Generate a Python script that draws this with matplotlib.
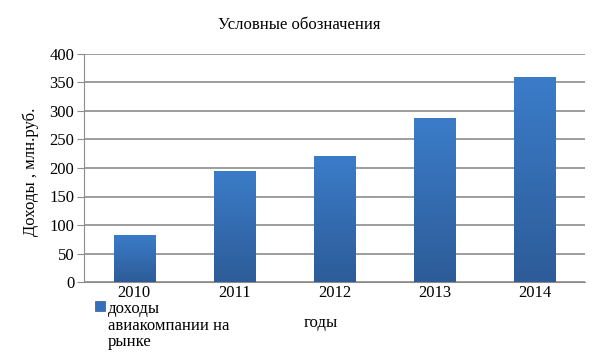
import matplotlib.pyplot as plt
import numpy as np
from matplotlib.patches import Rectangle
from matplotlib.colors import LinearSegmentedColormap

years = ['2010', '2011', '2012', '2013', '2014']
revenue = [83, 195, 221, 288, 360]

plt.rcParams['font.family'] = ['Liberation Serif', 'DejaVu Serif']

fig = plt.figure(figsize=(5.98, 3.52), dpi=100)
ax = fig.add_axes([84 / 598, (352 - 282) / 352, 501 / 598, 228 / 352])

x = np.arange(len(years))
bars = ax.bar(x, revenue, width=0.41, color='#3570b8', zorder=2)

# vertical gradient inside each bar
cmap = LinearSegmentedColormap.from_list('bar', ['#2d5c98', '#3b7cc9'])
grad = np.linspace(0, 1, 256).reshape(-1, 1)
for b in bars:
    x0, y0 = b.get_x(), b.get_y()
    w, h = b.get_width(), b.get_height()
    im = ax.imshow(grad, cmap=cmap, origin='lower', aspect='auto',
                   extent=[x0, x0 + w, y0, y0 + h], zorder=3)
    im.set_clip_path(b)

ax.set_xlim(-0.5, len(years) - 0.5)
ax.set_ylim(0, 400)
ax.set_yticks(range(0, 401, 50))
ax.set_xticks(x)
ax.set_xticklabels(years)
ax.yaxis.grid(True, color='#8c8c8c', linewidth=1.2, zorder=0)
ax.set_axisbelow(True)
for s in ['top', 'right']:
    ax.spines[s].set_visible(False)
ax.spines['left'].set_color('#8c8c8c')
ax.spines['bottom'].set_color('#8c8c8c')
ax.tick_params(axis='y', length=5, color='#8c8c8c', labelsize=12, pad=2)
ax.tick_params(axis='x', length=0, labelsize=12, pad=2)

fig.text(299 / 598, 1 - 25 / 352, 'Условные обозначения', ha='center', va='center', fontsize=12)
fig.text(31 / 598, 1 - 172 / 352, 'Доходы , млн.руб.', rotation=90, ha='center', va='center', fontsize=12)
fig.text(321 / 598, 1 - 323 / 352, 'годы', ha='center', va='center', fontsize=12)

# legend, drawn by hand as in the original
fig.patches.append(Rectangle((95 / 598, 1 - 311 / 352), 10 / 598, 10 / 352,
                             transform=fig.transFigure, facecolor='#3570b8',
                             edgecolor='#2d5c98', linewidth=0.5))
fig.text(108 / 598, 1 - 301 / 352, 'доходы\nавиакомпании на\nрынке', ha='left', va='top',
         fontsize=12, linespacing=1.05)

fig.savefig('out.png', dpi=100)
